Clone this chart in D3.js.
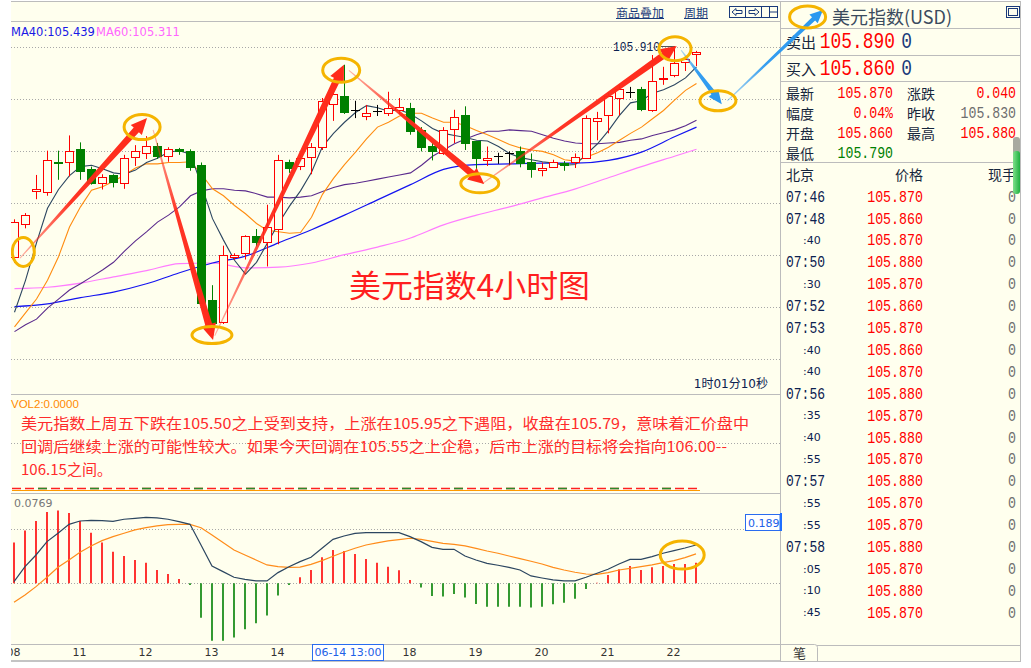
<!DOCTYPE html>
<html><head><meta charset="utf-8">
<script src="https://cdn.jsdelivr.net/npm/d3@7/dist/d3.min.js"></script>
<style>
html,body{margin:0;padding:0;background:#fff;}
svg{display:block;}
</style></head>
<body><svg id="chart" width="1031" height="668"></svg>
<script>
// ---------------- DATA ----------------
const opens=[105.606,105.653,105.701,105.700,105.743,105.742,105.761,105.733,105.713,105.724,105.713,105.750,105.755,105.766,105.751,105.762,105.758,105.738,105.544,105.512,105.605,105.611,105.636,105.628,105.646,105.743,105.737,105.750,105.765,105.827,105.838,105.817,105.809,105.816,105.814,105.817,105.820,105.789,105.766,105.755,105.790,105.810,105.773,105.745,105.752,105.755,105.758,105.742,105.731,105.735,105.741,105.742,105.748,105.802,105.810,105.835,105.844,105.848,105.817,105.862,105.868,105.887,105.898];
const highs=[105.660,105.669,105.724,105.759,105.759,105.781,105.771,105.736,105.725,105.725,105.753,105.767,105.780,105.770,105.764,105.763,105.761,105.742,105.565,105.622,105.611,105.637,105.646,105.681,105.753,105.746,105.753,105.770,105.835,105.844,105.883,105.831,105.825,105.825,105.844,105.835,105.828,105.793,105.770,105.793,105.818,105.823,105.773,105.765,105.756,105.758,105.765,105.755,105.742,105.746,105.744,105.755,105.810,105.815,105.843,105.855,105.851,105.851,105.897,105.880,105.910,105.895,105.903];
const lows=[105.597,105.647,105.689,105.694,105.717,105.722,105.717,105.710,105.703,105.706,105.704,105.737,105.747,105.747,105.743,105.753,105.730,105.540,105.496,105.509,105.602,105.602,105.621,105.592,105.624,105.727,105.731,105.725,105.760,105.802,105.812,105.806,105.803,105.809,105.809,105.812,105.782,105.758,105.745,105.753,105.770,105.760,105.726,105.737,105.740,105.738,105.735,105.720,105.722,105.735,105.730,105.734,105.748,105.774,105.784,105.810,105.835,105.816,105.815,105.854,105.865,105.874,105.881];
const closes=[105.656,105.666,105.704,105.746,105.741,105.759,105.730,105.713,105.721,105.714,105.748,105.759,105.766,105.751,105.761,105.758,105.735,105.540,105.510,105.609,105.609,105.636,105.628,105.649,105.746,105.734,105.748,105.765,105.831,105.841,105.815,105.817,105.814,105.816,105.820,105.822,105.788,105.765,105.758,105.789,105.807,105.770,105.748,105.749,105.752,105.755,105.741,105.732,105.734,105.742,105.739,105.750,105.806,105.806,105.838,105.848,105.844,105.819,105.860,105.864,105.885,105.891,105.902];

const ma5=[105.526,105.572,105.626,105.676,105.703,105.723,105.736,105.738,105.733,105.727,105.725,105.731,105.742,105.748,105.757,105.759,105.754,105.709,105.661,105.630,105.601,105.581,105.598,105.626,105.654,105.679,105.701,105.728,105.765,105.784,105.800,105.814,105.824,105.821,105.816,105.818,105.812,105.802,105.791,105.784,105.781,105.778,105.774,105.773,105.765,105.755,105.749,105.746,105.743,105.741,105.738,105.739,105.754,105.769,105.788,105.810,105.828,105.831,105.842,105.847,105.854,105.864,105.880];
const ma10=[105.505,105.525,105.545,105.572,105.606,105.649,105.678,105.702,105.707,105.715,105.724,105.734,105.740,105.740,105.742,105.742,105.743,105.725,105.704,105.694,105.680,105.668,105.654,105.644,105.642,105.640,105.641,105.663,105.696,105.719,105.739,105.757,105.776,105.793,105.800,105.809,105.813,105.813,105.806,105.800,105.800,105.795,105.788,105.782,105.775,105.768,105.763,105.760,105.758,105.753,105.746,105.744,105.750,105.756,105.764,105.774,105.784,105.793,105.805,105.817,105.832,105.846,105.856];
const ma20=[105.498,105.508,105.516,105.532,105.545,105.558,105.567,105.577,105.587,105.598,105.614,105.629,105.642,105.656,105.666,105.678,105.694,105.701,105.704,105.704,105.702,105.701,105.697,105.692,105.692,105.691,105.692,105.694,105.700,105.706,105.710,105.712,105.715,105.718,105.721,105.724,105.727,105.738,105.751,105.760,105.769,105.776,105.782,105.787,105.787,105.789,105.788,105.787,105.782,105.777,105.773,105.770,105.769,105.769,105.770,105.771,105.774,105.776,105.781,105.785,105.789,105.795,105.803];
const ma40Idx=[0,3,6,9,12,15,18,21,24,27,30,33,36,39,42,45,48,51,54,57,60,62];
const ma40=[105.534,105.538,105.547,105.555,105.567,105.583,105.597,105.607,105.626,105.645,105.666,105.688,105.710,105.732,105.739,105.740,105.741,105.741,105.745,105.757,105.779,105.793];
const ma60Idx=[0,3,6,9,12,15,18,21,24,27,30,33,36,39,42,45,48,51,54,57,60,62];
const ma60=[105.560,105.562,105.568,105.577,105.586,105.596,105.597,105.590,105.591,105.597,105.609,105.620,105.633,105.652,105.666,105.678,105.691,105.704,105.720,105.736,105.751,105.761];

const macdHist=[0.0377,0.0488,0.0577,0.0660,0.0673,0.0651,0.0577,0.0469,0.0377,0.0293,0.0253,0.0216,0.0191,0.0123,0.0086,0.0040,-0.0015,-0.0318,-0.0531,-0.0531,-0.0503,-0.0426,-0.0370,-0.0299,-0.0114,-0.0015,0.0056,0.0123,0.0241,0.0309,0.0299,0.0272,0.0225,0.0191,0.0154,0.0120,0.0031,-0.0040,-0.0117,-0.0123,-0.0099,-0.0132,-0.0191,-0.0216,-0.0216,-0.0216,-0.0216,-0.0225,-0.0216,-0.0194,-0.0179,-0.0142,-0.0052,0.0005,0.0077,0.0130,0.0160,0.0123,0.0148,0.0160,0.0179,0.0179,0.0191];
const dif=[0.0015,0.0154,0.0262,0.0386,0.0463,0.0546,0.0577,0.0583,0.0580,0.0574,0.0593,0.0602,0.0611,0.0605,0.0593,0.0571,0.0546,0.0355,0.0160,0.0108,0.0056,0.0037,0.0022,0.0022,0.0099,0.0154,0.0201,0.0241,0.0324,0.0407,0.0438,0.0463,0.0469,0.0469,0.0469,0.0469,0.0432,0.0386,0.0333,0.0315,0.0315,0.0253,0.0216,0.0185,0.0167,0.0148,0.0123,0.0068,0.0049,0.0031,0.0022,0.0022,0.0056,0.0093,0.0130,0.0179,0.0222,0.0222,0.0247,0.0278,0.0302,0.0327,0.0355];
const dea=[-0.0176,-0.0108,-0.0031,0.0056,0.0148,0.0216,0.0287,0.0346,0.0395,0.0432,0.0463,0.0494,0.0515,0.0531,0.0543,0.0546,0.0546,0.0515,0.0448,0.0377,0.0309,0.0262,0.0216,0.0170,0.0154,0.0148,0.0150,0.0175,0.0210,0.0250,0.0290,0.0325,0.0355,0.0375,0.0392,0.0405,0.0417,0.0407,0.0389,0.0370,0.0361,0.0346,0.0324,0.0299,0.0278,0.0253,0.0228,0.0204,0.0179,0.0148,0.0123,0.0102,0.0086,0.0083,0.0099,0.0123,0.0139,0.0154,0.0170,0.0191,0.0210,0.0238,0.0272];

const dayLabels=["08","11","12","13","14","18","19","20","21","22"];
const dayIdx=[0,6,12,18,24,36,42,48,54,60];
const cursorLabel="06-14 13:00", cursorIdx=30;
const gridPrices=[105.9086,105.8336,105.7586,105.6836,105.6086,105.5336,105.4586];
const macdGrid=[0.05,0];
const macdTopLabel="0.0769", macdCursor="0.189";
const maLabels=["MA40:105.439","MA60:105.311"];
const highLabel=105.910, highIdx=60;

const noteLines=["美元指数上周五下跌在105.50之上受到支持，上涨在105.95之下遇阻，收盘在105.79，意味着汇价盘中",
"回调后继续上涨的可能性较大。如果今天回调在105.55之上企稳，后市上涨的目标将会指向106.00--",
"106.15之间。"];
const titleText="美元指数4小时图";

// annotations in data coordinates [index, price]
const redArrows=[[[0.5,105.604],[12.05,105.806]],[[12.6,105.789],[18.05,105.486]],[[18.2,105.492],[29.95,105.883]],[[30.4,105.875],[42.7,105.711]],[[42.5,105.711],[60.2,105.910]]];
const blueArrows=[[[60.6,105.904],[64.3,105.826]],[[64.8,105.831],[73.5,105.962]]];
const rings=[[0.8,105.613,11,14.5],[11.6,105.793,18,12.5],[17.95,105.493,20,8.5],[29.7,105.875,18.5,12],[42.3,105.712,19,9.5],[60.05,105.906,16,12],[63.95,105.831,18,10],[72.1,105.952,18,11]];
const macdRing=[60.7,0.0262,22,14];

// right panel
const panelTitle="美元指数(USD)";
const sellPrice="105.890", buyPrice="105.860";
const infoRows=[["最新","105.870","涨跌","0.040"],["幅度","0.04%","昨收","105.830"],["开盘","105.860","最高","105.880"],["最低","105.790","",""]];
const infoColors=[["#ff0000","#ff0000"],["#ff0000","#6e6e6e"],["#ff0000","#ff0000"],["#008000",""]];
const tickTimes=["07:46","07:48",":40","07:50",":30","07:52","07:53",":40",":40","07:56",":35",":40",":55","07:57",":55",":55","07:58",":05",":10",":45"];
const tickPrices=["105.870","105.860","105.870","105.880","105.870","105.860","105.870","105.860","105.870","105.880","105.870","105.880","105.870","105.880","105.870","105.870","105.880","105.870","105.880","105.870"];
const tickVols=[0,0,0,0,0,0,0,0,0,0,0,0,0,0,0,0,0,0,0,0];

// ---------------- DRAW ----------------
const svg=d3.select('#chart');
const BG='#ffffee', GRID='#a8a8a8', FRAME='#bcbcbc';
const RED='#ff0000', GREEN='#008000', NAVY='#0c2150';
const CJK='"Noto Sans CJK SC","Noto Sans",sans-serif';
const SANS='"DejaVu Sans",sans-serif';
const MONO='"Liberation Mono",monospace';

const xs=d3.scaleLinear().domain([0,62]).range([14.5,696.5]);
const ys=d3.scaleLinear().domain([105.50,105.91]).range([330.25,46]);
const ym=d3.scaleLinear().domain([0,0.05]).range([583.3,529.3]);

const defs=svg.append('defs');
defs.append('clipPath').attr('id','clipMain').append('rect').attr('x',11).attr('y',22).attr('width',769).attr('height',371);
defs.append('clipPath').attr('id','clipMacd').append('rect').attr('x',11).attr('y',494).attr('width',769).attr('height',150);
defs.append('clipPath').attr('id','clipAxis').append('rect').attr('x',11).attr('y',645).attr('width',769).attr('height',15);
defs.append('clipPath').attr('id','clipLeft').append('rect').attr('x',11).attr('y',0).attr('width',1020).attr('height',668);

svg.append('rect').attr('width',1031).attr('height',668).attr('fill','#fff');
svg.append('rect').attr('x',11).attr('y',2).attr('width',1010).attr('height',660).attr('fill',BG);

function hline(x1,x2,y,c,w,dash){const l=svg.append('line').attr('x1',x1).attr('x2',x2).attr('y1',y).attr('y2',y).attr('stroke',c).attr('stroke-width',w||1);if(dash)l.attr('stroke-dasharray',dash);return l;}
function vline(x,y1,y2,c,w){return svg.append('line').attr('x1',x).attr('x2',x).attr('y1',y1).attr('y2',y2).attr('stroke',c).attr('stroke-width',w||1);}

// frame
hline(11,1021,1.5,FRAME);
hline(11,780,21.5,FRAME);
hline(11,780,394.5,FRAME);
hline(11,780,493.5,FRAME);
hline(11,780,644.5,FRAME);
hline(11,780,661,'#c4c4c4',2);
vline(780.5,2,662,FRAME);
vline(1020.5,2,662,FRAME);

// grids
gridPrices.forEach(p=>hline(11,780,Math.round(ys(p))+0.5,GRID,1,'1,2'));
hline(11,780,443.5,GRID,1,'1,2');
macdGrid.forEach(v=>hline(11,780,Math.round(ym(v))+0.5,GRID,1,'1,2'));

// MA lines
const gMain=svg.append('g').attr('clip-path','url(#clipMain)');
const lineIdx=d3.line().x((d,i)=>xs(i)).y(d=>ys(d));
const linePair=d3.line().x(d=>xs(d[0])).y(d=>ys(d[1])).curve(d3.curveMonotoneX);
gMain.append('path').attr('d',linePair(ma60Idx.map((k,j)=>[k,ma60[j]]))).attr('fill','none').attr('stroke','#ff7dff').attr('stroke-width',1.2);
gMain.append('path').attr('d',linePair(ma40Idx.map((k,j)=>[k,ma40[j]]))).attr('fill','none').attr('stroke','#1414f0').attr('stroke-width',1.2);
gMain.append('path').attr('d',lineIdx(ma20)).attr('fill','none').attr('stroke','#5a2a8c').attr('stroke-width',1.1);
gMain.append('path').attr('d',lineIdx(ma10)).attr('fill','none').attr('stroke','#ff8c10').attr('stroke-width',1.1);
gMain.append('path').attr('d',lineIdx(ma5)).attr('fill','none').attr('stroke','#2c4660').attr('stroke-width',1.1);

// candles
closes.forEach((c,i)=>{
  const o=opens[i],x=Math.round(xs(i)-0.5)+0.5;
  const col=c>o?RED:(c<o?GREEN:'#000');
  gMain.append('line').attr('x1',x).attr('x2',x).attr('y1',ys(highs[i])).attr('y2',ys(lows[i])).attr('stroke',col).attr('stroke-width',1);
  if(c===o){
    gMain.append('line').attr('x1',x-4.5).attr('x2',x+4.5).attr('y1',Math.round(ys(c))+0.5).attr('y2',Math.round(ys(c))+0.5).attr('stroke',col).attr('stroke-width',1);
  } else {
    const yt=Math.round(ys(Math.max(o,c)))+0.5, yb=Math.round(ys(Math.min(o,c)))+0.5;
    gMain.append('rect').attr('x',x-4).attr('y',yt).attr('width',8).attr('height',Math.max(yb-yt,1))
      .attr('fill',c>o?BG:GREEN).attr('stroke',col).attr('stroke-width',1);
  }
});

// monospace numbers: natural width = n*0.6*fs, stretched vertically by sy
function numAt(x,y,t,fs,sy,col,anchor){
  return svg.append('g').attr('transform','translate('+x+','+y+') scale(1,'+sy+')')
    .append('text').attr('x',0).attr('y',0).attr('dominant-baseline','central').attr('text-anchor',anchor||'start')
    .attr('font-family',MONO).attr('font-size',fs).attr('fill',col).text(t);
}

// high label
const hy=Math.round(ys(highLabel))+0.5;
svg.append('line').attr('x1',661).attr('x2',xs(highIdx)).attr('y1',hy).attr('y2',hy).attr('stroke','#555').attr('stroke-width',1);
numAt(613,hy+1,highLabel.toFixed(3),11.2,1.2,NAVY);

// MA header
svg.append('text').attr('x',11).attr('y',32).attr('dominant-baseline','central').attr('font-family',SANS).attr('font-size',11.5).attr('fill','#1818e6').text(maLabels[0]);
svg.append('text').attr('x',96).attr('y',32).attr('dominant-baseline','central').attr('font-family',SANS).attr('font-size',11.5).attr('fill','#ff66ff').text(maLabels[1]);

// top toolbar
[["商品叠加",616,48],["周期",684,24]].forEach(t=>{
  svg.append('text').attr('x',t[1]).attr('y',12).attr('dominant-baseline','central').attr('font-family',CJK).attr('font-size',12).attr('fill','#1a3a7a').text(t[0]);
  hline(t[1],t[1]+t[2],18.5,'#1a3a7a',1);
});
const tb=svg.append('g').attr('stroke','#1a3a7a').attr('fill','none').attr('stroke-width',1);
[729.5,745.5,761.5].forEach(x=>tb.append('rect').attr('x',x).attr('y',6.5).attr('width',16).attr('height',11));
tb.append('path').attr('d','M732,12 L736,8.5 L736,10.5 L742,10.5 L742,13.5 L736,13.5 L736,15.5 Z');
tb.append('path').attr('d','M759,12 L755,8.5 L755,10.5 L749,10.5 L749,13.5 L755,13.5 L755,15.5 Z');
tb.append('path').attr('d','M769.5,6.5 L769.5,17.5 M769.5,12 L777.5,12');

// time elapsed, VOL label
svg.append('text').attr('x',768).attr('y',384).attr('text-anchor','end').attr('dominant-baseline','central').attr('font-family',SANS+','+CJK).attr('font-size',12).attr('fill',NAVY).text('1时01分10秒');
svg.append('text').attr('x',11).attr('y',403.5).attr('dominant-baseline','central').attr('font-family','"Liberation Sans",sans-serif').attr('font-size',11.5).attr('fill','#ff8a00').text('VOL2:0.0000');

// dashed separator
hline(12,700,490.5,'#ff9a00',1.2);
hline(12,700,488.5,'#ff2020',1.5,'9,4');
svg.append('line').attr('x1',12).attr('x2',700).attr('y1',488.5).attr('y2',488.5).attr('stroke','#2a8a2a').attr('stroke-width',1.5).attr('stroke-dasharray','9,43').attr('stroke-dashoffset',-26);

// note text
const noteW=[728,706,91], noteY=[422,445,468];
noteLines.forEach((t,k)=>{
  svg.append('text').attr('x',21).attr('y',noteY[k]).attr('dominant-baseline','central').attr('font-family',CJK).attr('font-size',15)
   .attr('textLength',noteW[k]).attr('lengthAdjust','spacingAndGlyphs').attr('fill','#ff2b2b').text(t);
});
svg.append('text').attr('x',349).attr('y',283).attr('dominant-baseline','central').attr('font-family',CJK).attr('font-size',31)
  .attr('textLength',241).attr('lengthAdjust','spacingAndGlyphs').attr('fill','#ff1f1f').text(titleText);

// MACD
const gM=svg.append('g').attr('clip-path','url(#clipMacd)');
const xm=i=>Math.round(xs(i)-0.5);
macdHist.forEach((v,i)=>{
  gM.append('line').attr('x1',xm(i)).attr('x2',xm(i)).attr('y1',ym(0)).attr('y2',ym(v)).attr('stroke',v>=0?RED:GREEN).attr('stroke-width',1.6);
});
const lm=d3.line().x((d,i)=>xm(i)).y(d=>ym(d));
gM.append('path').attr('d',lm(dea)).attr('fill','none').attr('stroke','#ff8c1a').attr('stroke-width',1.2);
gM.append('path').attr('d',lm(dif)).attr('fill','none').attr('stroke','#2c4660').attr('stroke-width',1.2);
svg.append('text').attr('x',14).attr('y',503).attr('dominant-baseline','central').attr('font-family',SANS).attr('font-size',11).attr('fill','#777').text(macdTopLabel);
svg.append('rect').attr('x',745.5).attr('y',514.5).attr('width',34.5).attr('height',16).attr('fill','#fff').attr('stroke','#2a6cf0');
svg.append('text').attr('x',748).attr('y',523).attr('dominant-baseline','central').attr('font-family',SANS).attr('font-size',11).attr('fill','#2060e8').text(macdCursor);

// x axis labels
const gA=svg.append('g').attr('clip-path','url(#clipAxis)');
dayLabels.forEach((t,k)=>{
  gA.append('text').attr('x',xs(dayIdx[k])-1).attr('y',652.5).attr('text-anchor','middle').attr('dominant-baseline','central').attr('font-family',SANS).attr('font-size',11).attr('fill','#333').text(t);
});
svg.append('rect').attr('x',312.5).attr('y',644.5).attr('width',71).attr('height',16).attr('fill','#fff').attr('stroke','#2a6cf0');
svg.append('text').attr('x',xs(cursorIdx)+3.5).attr('y',652.5).attr('text-anchor','middle').attr('dominant-baseline','central').attr('font-family',SANS).attr('font-size',11).attr('fill','#2060e8').text(cursorLabel);

// ---------------- RIGHT PANEL ----------------
svg.append('text').attr('x',832).attr('y',16).attr('dominant-baseline','central').attr('font-family',CJK).attr('font-size',18).attr('fill','#3b4b5e').text(panelTitle);
svg.append('rect').attr('x',1006.5).attr('y',6.5).attr('width',13).attr('height',11).attr('fill','none').attr('stroke','#1a3a7a');
svg.append('rect').attr('x',1008.5).attr('y',8.5).attr('width',9).attr('height',7).attr('fill','none').attr('stroke','#1a3a7a');
[28.5,55.5,81.5,162.5].forEach(y=>hline(780,1020,y,FRAME));

function label(x,y,t,size,col){return svg.append('text').attr('x',x).attr('y',y).attr('dominant-baseline','central').attr('font-family',CJK).attr('font-size',size).attr('fill',col||'#16263c').text(t);}

label(786,41,'卖出',15); numAt(895,41.5,sellPrice,17.9,1.25,RED,'end'); numAt(912,41.5,'0',17.9,1.25,'#1a3a7a','end');
label(786,68,'买入',15); numAt(895,68.5,buyPrice,17.9,1.25,RED,'end'); numAt(912,68.5,'0',17.9,1.25,'#1a3a7a','end');
infoRows.forEach((r,k)=>{
  const y=93+20*k;
  label(786,y,r[0],14);
  numAt(893,y+0.5,r[1],13.2,1.2,infoColors[k][0],'end');
  if(r[2]){label(907,y,r[2],14); numAt(1016,y+0.5,r[3],13.2,1.2,infoColors[k][1],'end');}
});

label(786,174,'北京',14); label(895,174,'价格',14); label(988,174,'现手',14);
tickTimes.forEach((t,k)=>{
  const y=196.7+21.9*k;
  if(t.length===5){ numAt(786,y+0.5,t,13,1.3,NAVY); }
  else { svg.append('text').attr('x',803).attr('y',y).attr('dominant-baseline','central').attr('font-family',SANS).attr('font-size',11).attr('fill',NAVY).text(t); }
  numAt(923,y+0.5,tickPrices[k],13.3,1.25,RED,'end');
  numAt(1016,y+0.5,String(tickVols[k]),13.3,1.25,'#707070','end');
});

// scrollbar
const sg=defs.append('linearGradient').attr('id','sbg').attr('x1',0).attr('x2',1).attr('y1',0).attr('y2',0);
sg.append('stop').attr('offset',0).attr('stop-color','#7fe08a');
sg.append('stop').attr('offset',1).attr('stop-color','#1fb040');
svg.append('rect').attr('x',1013).attr('y',137).attr('width',7).attr('height',20).attr('rx',3).attr('fill','#a8aaa0');
svg.append('rect').attr('x',1013).attr('y',151).attr('width',7).attr('height',43).attr('rx',3).attr('fill','url(#sbg)');
svg.append('rect').attr('x',780).attr('y',513).attr('width',2).attr('height',18).attr('fill','#1f6fff');

// bottom tab
svg.append('path').attr('d','M780.5,644.5 L814.5,644.5 Q817.5,644.5 817.5,647.5 L817.5,661.5').attr('fill','none').attr('stroke',FRAME);
hline(817,1020,645.5,FRAME);
hline(780,1021,661.5,FRAME);
label(793,652.5,'笔',13,'#333');

// ---------------- ANNOTATIONS ----------------
function arrowPath(p0,p1,w0,w1,hl,hw){
  const [x0,y0]=p0,[x1,y1]=p1;
  const dx=x1-x0,dy=y1-y0,L=Math.hypot(dx,dy),ux=dx/L,uy=dy/L,nx=-uy,ny=ux;
  const bx=x1-ux*hl,by=y1-uy*hl;
  const pts=[[x0+nx*w0/2,y0+ny*w0/2],[bx+nx*w1/2,by+ny*w1/2],[bx+nx*hw/2,by+ny*hw/2],[x1,y1],[bx-nx*hw/2,by-ny*hw/2],[bx-nx*w1/2,by-ny*w1/2],[x0-nx*w0/2,y0-ny*w0/2]];
  return 'M'+pts.map(p=>p[0].toFixed(2)+','+p[1].toFixed(2)).join('L')+'Z';
}
const gAn=svg.append('g').attr('clip-path','url(#clipLeft)');
function drawArrow(a,k,color,w1,hl,hw){
  const p0=[xs(a[0][0]),ys(a[0][1])],p1=[xs(a[1][0]),ys(a[1][1])];
  const id='ag'+color.slice(1)+k;
  const g=defs.append('linearGradient').attr('id',id).attr('gradientUnits','userSpaceOnUse')
    .attr('x1',p0[0]).attr('y1',p0[1]).attr('x2',p1[0]).attr('y2',p1[1]);
  g.append('stop').attr('offset',0).attr('stop-color',color).attr('stop-opacity',0.35);
  g.append('stop').attr('offset',0.4).attr('stop-color',color).attr('stop-opacity',0.95);
  g.append('stop').attr('offset',1).attr('stop-color',color).attr('stop-opacity',1);
  gAn.append('path').attr('d',arrowPath(p0,p1,1,w1,hl,hw)).attr('fill','url(#'+id+')');
}
redArrows.forEach((a,k)=>drawArrow(a,k,'#ff2a1a',7,16,15));
drawArrow(blueArrows[0],0,'#2a98f0',5,14,12);
drawArrow(blueArrows[1],1,'#2a98f0',4.5,13,12);

rings.forEach(r=>{
  gAn.append('ellipse').attr('cx',xs(r[0])).attr('cy',ys(r[1])).attr('rx',r[2]).attr('ry',r[3]).attr('fill','none').attr('stroke','#f5b400').attr('stroke-width',3);
});
gAn.append('ellipse').attr('cx',xs(macdRing[0])).attr('cy',ym(macdRing[1])).attr('rx',macdRing[2]).attr('ry',macdRing[3]).attr('fill','none').attr('stroke','#f5b400').attr('stroke-width',3);
</script></body></html>
